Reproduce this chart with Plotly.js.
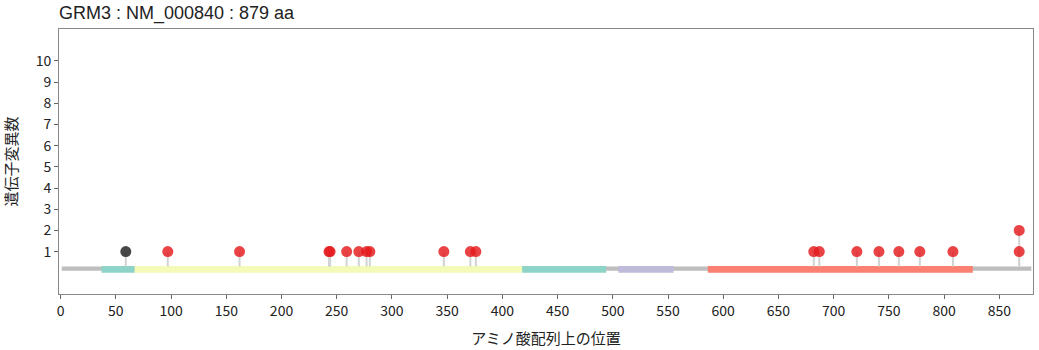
<!DOCTYPE html>
<html>
<head>
<meta charset="utf-8">
<script src="https://cdn.plot.ly/plotly-3.0.1.min.js"></script>
<style>html,body{margin:0;padding:0;background:#fff;}#chart{width:1039px;height:350px;}</style>
</head>
<body>
<div id="chart"></div>
<script>
const proteinLength = 879;
const titleText = "GRM3 : NM_000840 : 879 aa";

// domains
const domainStart = [37, 67, 418, 505, 586];
const domainEnd   = [67, 418, 494, 555, 826];
const domainColor = ["#8dd3c7", "#f4fab8", "#8dd3c7", "#bebada", "#fb8072"];

// variants (position, count level)
const redPos   = [97, 162, 243, 244, 259, 270, 277, 280, 347, 371, 376, 682, 687, 721, 741, 759, 778, 808, 868, 868];
const redCount = [1, 1, 1, 1, 1, 1, 1, 1, 1, 1, 1, 1, 1, 1, 1, 1, 1, 1, 1, 2];
const greyPos   = [59];
const greyCount = [1];

const xTicks = [0,50,100,150,200,250,300,350,400,450,500,550,600,650,700,750,800,850];
const yTicks = [1,2,3,4,5,6,7,8,9,10];

const stemBase = 0.3;
const allPos = greyPos.concat(redPos);
const allCount = greyCount.concat(redCount);
const stemX = [], stemY = [];
allPos.forEach((p, i) => { stemX.push(p, p, null); stemY.push(stemBase, allCount[i], null); });

const shapes = [{
  type: "rect", xref: "x", yref: "y", x0: 1, x1: proteinLength, y0: 0.1, y1: 0.3,
  fillcolor: "#bebebe", line: {width: 0}, layer: "below"
}];
domainStart.forEach((s, i) => shapes.push({
  type: "rect", xref: "x", yref: "y", x0: s, x1: domainEnd[i], y0: 0.0, y1: 0.32,
  fillcolor: domainColor[i], line: {width: 0}, layer: "below"
}));

const traces = [
  {x: stemX, y: stemY, mode: "lines", line: {color: "#d3d3d3", width: 2}, hoverinfo: "skip", showlegend: false},
  {x: greyPos, y: greyCount, mode: "markers", marker: {size: 11, color: "rgba(40,40,40,0.85)", line: {width: 0}}, showlegend: false},
  {x: redPos, y: redCount, mode: "markers", marker: {size: 11, color: "rgba(228,26,28,0.82)", line: {width: 0}}, showlegend: false}
];

const baseFont = "'Noto Sans CJK JP', 'Noto Sans', sans-serif";
const layout = {
  width: 1039, height: 350,
  margin: {l: 59, r: 6, t: 29, b: 56},
  paper_bgcolor: "#fff", plot_bgcolor: "#fff",
  font: {family: baseFont, size: 14, color: "#222"},
  title: {text: titleText, x: 0, xref: "paper", xanchor: "left", y: 0.965, yref: "container", yanchor: "middle",
          font: {family: "'Liberation Sans', Arial, sans-serif", size: 18, color: "#222"}},
  xaxis: {range: [-1.5, 880.5], tickvals: xTicks, ticktext: xTicks.map(String), ticks: "outside", ticklen: 4,
          tickcolor: "#666", showline: true, linecolor: "#888", mirror: true, showgrid: false, zeroline: false,
          tickfont: {size: 14}, title: {text: "アミノ酸配列上の位置", font: {size: 15}, standoff: 14}},
  yaxis: {range: [-1, 11.5], tickvals: yTicks, ticktext: yTicks.map(String), ticks: "outside", ticklen: 4,
          tickcolor: "#666", showline: true, linecolor: "#888", mirror: true, showgrid: false, zeroline: false,
          tickfont: {size: 14}, title: {text: "遺伝子変異数", font: {size: 15}, standoff: 16}},
  shapes: shapes,
  showlegend: false
};

Plotly.newPlot("chart", traces, layout, {displayModeBar: false, staticPlot: true});
</script>
</body>
</html>
